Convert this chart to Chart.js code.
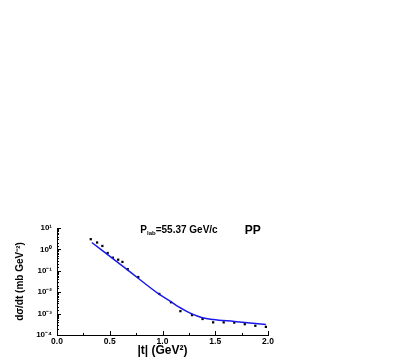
<!DOCTYPE html>
<html><head><meta charset="utf-8">
<script src="https://cdn.jsdelivr.net/npm/chart.js@4/dist/chart.umd.min.js"></script>
<style>html,body{margin:0;padding:0;background:#fff;}canvas{display:block;}</style>
</head><body>
<canvas id="c" width="409" height="360"></canvas>
<script>
// Experimental points
const dataT = [0.32,0.38,0.43,0.48,0.53,0.58,0.62,0.67,0.77,0.97,1.08,1.17,1.28,1.38,1.48,1.58,1.68,1.78,1.88,1.98];
const dataY = [3.0,2.1,1.45,0.68,0.41,0.33,0.26,0.12,0.051,0.0083,0.0034,0.0013,0.00085,0.00056,0.00039,0.00039,0.00038,0.00032,0.00027,0.00024];
// Model curve
const fitT = [0.33,0.65,0.97,1.08,1.15,1.22,1.29,1.37,1.48,1.68,1.98];
const fitY = [2.1,0.13,0.0079,0.0036,0.0021,0.00135,0.00092,0.00066,0.00053,0.00043,0.00031];
// Axis labels
const xTickLabels = {0:'0.0',0.5:'0.5',1:'1.0',1.5:'1.5',2:'2.0'};
const yTickLabels = {'-4':'10⁻⁴','-3':'10⁻³','-2':'10⁻²','-1':'10⁻¹','0':'10⁰','1':'10¹'};
const annotationMain = '=55.37 GeV/c';
const annotationRight = 'PP';

const FONT = 'Liberation Sans, Arial, sans-serif';

const tickPlugin = {
  id: 'inTicks',
  afterDraw(chart) {
    const ctx = chart.ctx;
    const xs = chart.scales.x, ys = chart.scales.y;
    const ca = chart.chartArea;
    ctx.save();
    ctx.strokeStyle = '#000';
    ctx.lineWidth = 1;
    ctx.beginPath();
    xs.ticks.forEach(t => {
      const px = Math.round(xs.getPixelForValue(t.value)) + 0.5;
      const major = Math.abs(t.value * 2 - Math.round(t.value * 2)) < 1e-6;
      ctx.moveTo(px, ca.bottom);
      ctx.lineTo(px, ca.bottom - (major ? 4 : 2));
    });
    ys.ticks.forEach(t => {
      const py = Math.round(ys.getPixelForValue(t.value)) + 0.5;
      const lg = Math.log10(t.value);
      const major = Math.abs(lg - Math.round(lg)) < 1e-6;
      ctx.moveTo(ca.left, py);
      ctx.lineTo(ca.left + (major ? 4 : 2), py);
    });
    ctx.stroke();
    // annotation
    ctx.fillStyle = '#000';
    ctx.textBaseline = 'middle';
    const ax = xs.getPixelForValue(0.79);
    const ay = ys.getPixelForValue(Math.pow(10, 0.88));
    ctx.font = 'bold 10px ' + FONT;
    ctx.fillText('P', ax, ay);
    let w = ctx.measureText('P').width;
    ctx.font = 'bold 6px ' + FONT;
    ctx.fillText('lab', ax + w, ay + 3);
    w += ctx.measureText('lab').width;
    ctx.font = 'bold 10px ' + FONT;
    ctx.fillText(annotationMain, ax + w, ay);
    ctx.font = 'bold 12px ' + FONT;
    ctx.fillText(annotationRight, xs.getPixelForValue(1.78), ay);
    ctx.restore();
  }
};

new Chart(document.getElementById('c'), {
  type: 'scatter',
  data: {
    datasets: [
      {
        type: 'line',
        data: fitT.map((t, i) => ({x: t, y: fitY[i]})),
        borderColor: 'rgb(25,25,235)',
        borderWidth: 1.5,
        pointRadius: 0,
        fill: false,
        cubicInterpolationMode: 'monotone'
      },
      {
        data: dataT.map((t, i) => ({x: t, y: dataY[i]})),
        pointStyle: 'rect',
        pointRadius: 1.6,
        backgroundColor: '#000',
        borderColor: '#000',
        borderWidth: 0
      }
    ]
  },
  options: {
    responsive: false,
    animation: false,
    plugins: {legend: {display: false}, tooltip: {enabled: false}},
    layout: {padding: {left: 0, top: 228, right: 141, bottom: 0}},
    scales: {
      x: {
        type: 'linear', min: 0, max: 2,
        grid: {display: false, drawTicks: false},
        border: {display: true, color: '#000', width: 1},
        ticks: {
          stepSize: 0.25, autoSkip: false, maxRotation: 0, padding: 2,
          color: '#000', font: {family: FONT, size: 8.5, weight: 'bold'},
          callback: v => xTickLabels[v] !== undefined ? xTickLabels[v] : ''
        },
        title: {display: true, text: '|t| (GeV²)', color: '#000',
          font: {family: FONT, size: 12, weight: 'bold'}, padding: {top: 0, bottom: 2}},
        afterFit(s) { s.height = 25; }
      },
      y: {
        type: 'logarithmic', min: 1e-4, max: 10,
        grid: {display: false, drawTicks: false},
        border: {display: true, color: '#000', width: 1},
        ticks: {
          autoSkip: false, padding: 5,
          color: '#000', font: {family: FONT, size: 8, weight: 'bold'},
          callback: v => {
            const lg = Math.log10(v);
            if (Math.abs(lg - Math.round(lg)) < 1e-6) return yTickLabels[String(Math.round(lg))] || '';
            return '';
          }
        },
        title: {display: true, text: 'dσ/dt (mb GeV⁻²)', color: '#000',
          font: {family: FONT, size: 10, weight: 'bold'}, padding: {top: 14, bottom: 0}},
        afterFit(s) { s.width = 57; }
      }
    }
  },
  plugins: [tickPlugin]
});
</script>
</body></html>
